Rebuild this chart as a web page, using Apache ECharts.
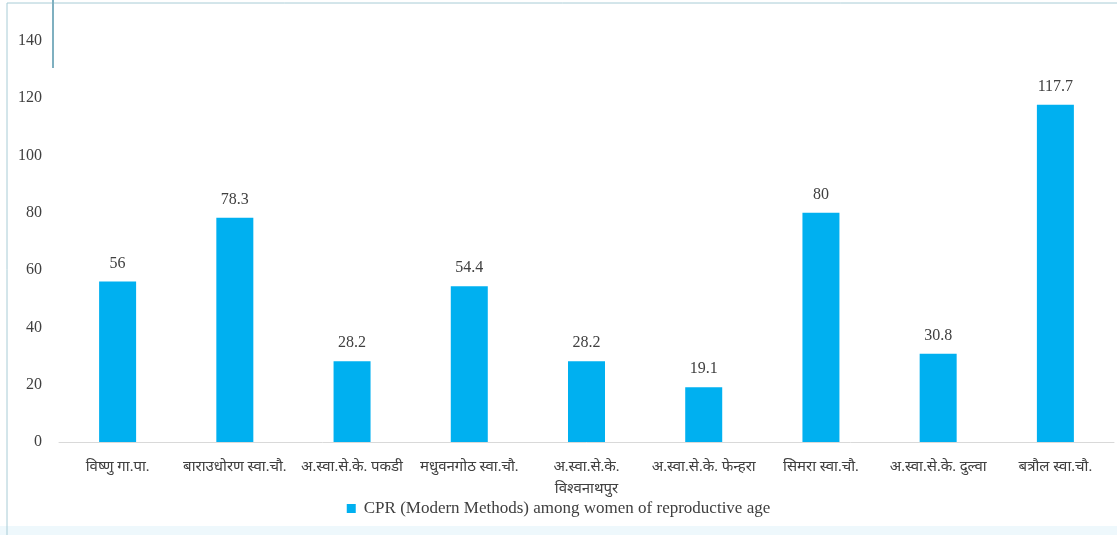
<!DOCTYPE html>
<html><head><meta charset="utf-8">
<script src="https://cdn.jsdelivr.net/npm/echarts@6/dist/echarts.min.js"></script>
<style>html,body{margin:0;padding:0;background:#fff}#c{width:1117px;height:535px}</style>
</head><body><div id="c"></div>
<script>
const categories = ["विष्णु गा.पा.", "बाराउधोरण स्वा.चौ.", "अ.स्वा.से.के. पकडी", "मधुवनगोठ स्वा.चौ.", "अ.स्वा.से.के.\nविश्वनाथपुर", "अ.स्वा.से.के. फेन्हरा", "सिमरा स्वा.चौ.", "अ.स्वा.से.के. दुल्वा", "बत्रौल स्वा.चौ."];
const values = [56, 78.3, 28.2, 54.4, 28.2, 19.1, 80, 30.8, 117.7];
const seriesName = "CPR (Modern Methods) among women of reproductive age";
const font = "'Liberation Serif', 'Noto Sans', serif";
const chart = echarts.init(document.getElementById('c'));
chart.setOption({
  animation: false,
  textStyle: {fontFamily: font},
  grid: {left: 59, right: 3, top: 41, bottom: 93},
  legend: {top: 495, left: 'center', itemWidth: 9, itemHeight: 9, itemGap: 5, icon: 'rect',
    textStyle: {fontFamily: font, fontSize: 17, color: '#404040', padding: [0, 0, 0, 3]}},
  xAxis: {type: 'category', data: categories,
    axisLine: {lineStyle: {color: '#d9d9d9'}}, axisTick: {show: false},
    axisLabel: {interval: 0, fontFamily: font, fontSize: 15, color: '#404040', margin: 14, lineHeight: 22}},
  yAxis: {type: 'value', min: 0, max: 140, interval: 20,
    axisLine: {show: false}, axisTick: {show: false}, splitLine: {show: false},
    axisLabel: {fontFamily: font, fontSize: 16, color: '#404040', margin: 17}},
  series: [{name: seriesName, type: 'bar', data: values, barWidth: 37,
    itemStyle: {color: '#00b0f0'},
    label: {show: true, position: 'top', distance: 10, fontFamily: font, fontSize: 16, color: '#404040'}}],
  graphic: [
    {type: 'rect', shape: {x: 7, y: 3, width: 1200, height: 600}, style: {fill: 'none', stroke: '#a8ccd6', lineWidth: 1}, silent: true},
    {type: 'line', shape: {x1: 53, y1: 0, x2: 53, y2: 68}, style: {stroke: '#7fb0c0', lineWidth: 2}, silent: true},
    {type: 'rect', shape: {x: 0, y: 526, width: 1117, height: 9}, style: {fill: '#eef8fc'}, silent: true, z: -1}
  ]
});
</script></body></html>
